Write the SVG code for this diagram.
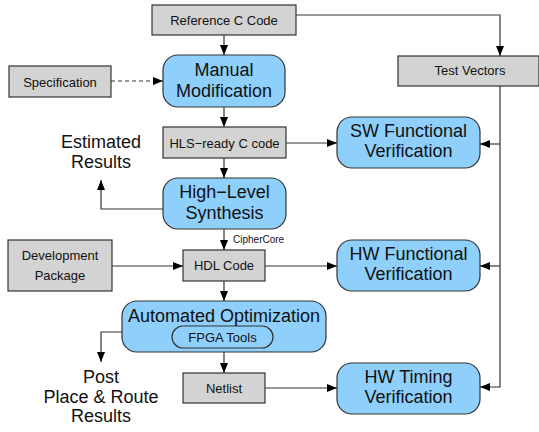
<svg xmlns="http://www.w3.org/2000/svg" width="539" height="432" viewBox="0 0 539 432">
<defs>
<marker id="ah" markerWidth="10" markerHeight="8" refX="10" refY="4" orient="auto" markerUnits="userSpaceOnUse">
<path d="M0,0 L10,4 L0,8 Z" fill="#000"/>
</marker>
<style>
.g{fill:#d3d3d3;stroke:#333;stroke-width:1.2}
.b{fill:#8ecffb;stroke:#333;stroke-width:1.2}
.t{font-family:"Liberation Sans",Arial,sans-serif;font-size:13px;fill:#111;text-anchor:middle}
.L{font-family:"Liberation Sans",Arial,sans-serif;font-size:18px;fill:#111;text-anchor:middle}
.c{fill:none;stroke:#333;stroke-width:1.2}
</style>
</defs>
<rect width="539" height="432" fill="#fff"/>
<g id="connectors">
<path class="c" d="M224,35 V55" marker-end="url(#ah)"/>
<path class="c" d="M296,15 H500 V56" marker-end="url(#ah)"/>
<path class="c" d="M111,81 H163" stroke-dasharray="4,3" marker-end="url(#ah)"/>
<path class="c" d="M224,107 V127" marker-end="url(#ah)"/>
<path class="c" d="M286,143 H337" marker-end="url(#ah)"/>
<path class="c" d="M500,86 V387 H480" marker-end="url(#ah)"/>
<path class="c" d="M500,144 H480" marker-end="url(#ah)"/>
<path class="c" d="M500,266 H480" marker-end="url(#ah)"/>
<path class="c" d="M224,158 V178" marker-end="url(#ah)"/>
<path class="c" d="M163,209 H101 V180" marker-end="url(#ah)"/>
<path class="c" d="M224,229 V250" marker-end="url(#ah)"/>
<path class="c" d="M112,266 H183" marker-end="url(#ah)"/>
<path class="c" d="M265,266 H337" marker-end="url(#ah)"/>
<path class="c" d="M224,281 V301" marker-end="url(#ah)"/>
<path class="c" d="M122,332 H101 V362" marker-end="url(#ah)"/>
<path class="c" d="M224,352 V373" marker-end="url(#ah)"/>
<path class="c" d="M265,388 H337" marker-end="url(#ah)"/>
<text x="233" y="243" font-family="Liberation Sans,Arial,sans-serif" font-size="10" fill="#111">CipherCore</text>
</g>
<g id="refcode"><rect class="g" x="152" y="5" width="144" height="30"/><text class="t" x="224" y="25">Reference C Code</text></g>
<g id="spec"><rect class="g" x="9" y="66" width="102" height="31"/><text class="t" x="60" y="87">Specification</text></g>
<g id="manual"><rect class="b" x="163" y="55" width="122" height="52" rx="15"/><text class="L" x="224" y="76">Manual</text><text class="L" x="224" y="97">Modification</text></g>
<g id="testvec"><rect class="g" x="398" y="56" width="141" height="30"/><text class="t" x="470" y="75">Test Vectors</text></g>
<g id="hlsc"><rect class="g" x="163" y="127" width="123" height="31"/><text class="t" x="224.5" y="148">HLS−ready C code</text></g>
<g id="swver"><rect class="b" x="337" y="117" width="143" height="51" rx="15"/><text class="L" x="408.5" y="137">SW Functional</text><text class="L" x="408.5" y="157">Verification</text></g>
<g id="estimated"><text class="L" x="101" y="148">Estimated</text><text class="L" x="101" y="168">Results</text></g>
<g id="hls"><rect class="b" x="163" y="178" width="123" height="51" rx="15"/><text class="L" x="224.5" y="198">High−Level</text><text class="L" x="224.5" y="219">Synthesis</text></g>
<g id="devpkg"><rect class="g" x="8" y="240" width="104" height="51"/><text class="t" x="60" y="260">Development</text><text class="t" x="60" y="280">Package</text></g>
<g id="hdl"><rect class="g" x="183" y="250" width="82" height="31"/><text class="t" x="224" y="270">HDL Code</text></g>
<g id="hwver"><rect class="b" x="337" y="240" width="143" height="51" rx="15"/><text class="L" x="408.5" y="260">HW Functional</text><text class="L" x="408.5" y="280">Verification</text></g>
<g id="autoopt"><rect class="b" x="122" y="301" width="204" height="51" rx="15"/><text class="L" x="224" y="322">Automated Optimization</text>
<g id="fpga"><rect class="b" x="172" y="326" width="101" height="22" rx="11"/><text class="t" x="222.5" y="342">FPGA Tools</text></g></g>
<g id="post"><text class="L" x="101" y="383">Post</text><text class="L" x="101" y="403">Place &amp; Route</text><text class="L" x="101" y="422">Results</text></g>
<g id="netlist"><rect class="g" x="183" y="373" width="82" height="30"/><text class="t" x="224" y="393">Netlist</text></g>
<g id="hwtiming"><rect class="b" x="337" y="363" width="143" height="51" rx="15"/><text class="L" x="408.5" y="383">HW Timing</text><text class="L" x="408.5" y="403">Verification</text></g>
</svg>
